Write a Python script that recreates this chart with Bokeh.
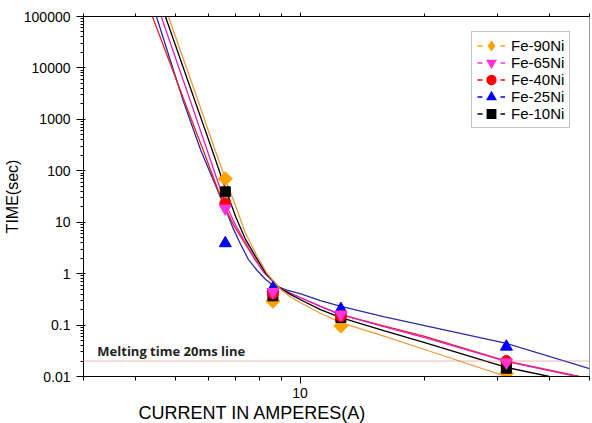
import math
from bokeh.plotting import figure
from bokeh.models import (LogAxis, FixedTicker, LogTicker, CustomJSTickFormatter, Span,
                          Label, Legend, LegendItem, Range1d, Title)
from bokeh.embed import file_html
from bokeh.resources import INLINE

# ---------------- data ----------------
series_names = ["Fe-90Ni", "Fe-65Ni", "Fe-40Ni", "Fe-25Ni", "Fe-10Ni"]

current_points = [6.6, 8.6, 12.55, 31.5]          # measured currents (A)
t_fe90 = [70.0, 0.29, 0.096, 0.0115]               # time (s)
t_fe65 = [18.5, 0.44, 0.16, 0.0188]
t_fe40 = [23.0, 0.41, 0.15, 0.020]
t_fe25 = [3.9, 0.52, 0.205, 0.038]
t_fe10 = [39.0, 0.37, 0.14, 0.0145]

# fitted curves
curve_fe90_x = [4.81, 5.67, 6.24, 6.60, 7.00, 7.37, 7.85, 8.33, 8.95, 9.45, 10.0, 11.2, 12.55, 16.0, 20.0, 31.5]
curve_fe90_y = [1e5, 2330, 248, 70.8, 20.0, 6.3, 2.3, 1.0, 0.51, 0.36, 0.275, 0.17, 0.112, 0.060, 0.0335, 0.010]
curve_fe10_x = [4.73, 5.57, 6.14, 6.63, 7.00, 7.37, 7.85, 8.28, 8.90, 9.45, 10.0, 11.2, 12.55, 16.0, 20.0, 31.5, 40.0]
curve_fe10_y = [1e5, 2330, 248, 41.0, 12.5, 4.8, 2.0, 1.0, 0.54, 0.40, 0.314, 0.20, 0.14, 0.077, 0.0458, 0.015, 0.010]
curve_fe65_x = [4.62, 5.43, 5.97, 6.56, 6.95, 7.33, 7.80, 8.19, 8.85, 9.40, 10.0, 11.2, 12.55, 16.0, 20.0, 31.5, 46.5]
curve_fe65_y = [1e5, 2330, 248, 26.4, 9.5, 4.4, 1.9, 1.05, 0.56, 0.43, 0.344, 0.23, 0.16, 0.092, 0.057, 0.0196, 0.010]
curve_fe40_x = [4.40, 5.25, 5.84, 6.52, 6.90, 7.29, 7.78, 8.19, 8.85, 9.40, 10.0, 11.2, 12.55, 16.0, 20.0, 31.5, 47.3]
curve_fe40_y = [1e5, 2330, 248, 23.1, 9.0, 4.4, 1.9, 1.05, 0.56, 0.43, 0.344, 0.23, 0.16, 0.095, 0.060, 0.020, 0.010]
curve_fe25_x = [4.50, 5.22, 5.76, 6.60, 6.90, 7.17, 7.50, 7.88, 8.25, 8.61, 9.30, 10.0, 11.2, 12.55, 16.0, 20.0, 31.5, 50.0]
curve_fe25_y = [1e5, 2330, 248, 18.5, 7.5, 3.85, 1.9, 1.15, 0.78, 0.59, 0.48, 0.41, 0.30, 0.23, 0.145, 0.098, 0.044, 0.0143]

melting_time = 0.02
melting_label = "Melting time 20ms line"
x_title = "CURRENT IN AMPERES(A)"
y_title = "TIME(sec)"

x_ticks = [10]
x_minor_ticks = [3, 4, 5, 6, 7, 8, 9, 20, 30, 40, 50]

# ---------------- figure ----------------
p = figure(width=592, height=423, output_backend="svg", toolbar_location=None,
           x_axis_type="log", y_axis_type="log",
           x_range=Range1d(3, 50), y_range=Range1d(0.01, 100000),
           min_border_left=83, min_border_right=3, min_border_top=16, min_border_bottom=47)
p.background_fill_color = "white"
p.border_fill_color = "white"
p.outline_line_color = "#999999"
p.grid.visible = False

font = "Liberation Sans"

# x axis (bottom)
xa = p.xaxis[0]
xa.ticker = FixedTicker(ticks=x_ticks, minor_ticks=x_minor_ticks)
xa.formatter = CustomJSTickFormatter(code="return String(Math.round(tick));")
xa.major_label_text_font = font
xa.major_label_text_font_size = "14px"
xa.major_label_text_color = "black"
xa.major_tick_out = 7
xa.major_tick_in = 0
xa.minor_tick_out = 4
xa.minor_tick_in = 0
xa.axis_line_color = "black"
xa.major_label_standoff = 4

# top axis (ticks only)
ta = LogAxis(ticker=FixedTicker(ticks=x_ticks, minor_ticks=x_minor_ticks),
             formatter=CustomJSTickFormatter(code="return '';"))
ta.major_tick_out = 4
ta.major_tick_in = 0
ta.minor_tick_out = 3
ta.minor_tick_in = 0
ta.major_label_text_font_size = "1px"
ta.major_label_standoff = 0
ta.axis_line_color = "black"
p.add_layout(ta, "above")

# y axis
ya = p.yaxis[0]
ya.ticker = LogTicker(num_minor_ticks=10)
ya.formatter = CustomJSTickFormatter(
    code="return tick >= 1 ? String(Math.round(tick)) : String(Number(tick.toPrecision(1)));")
ya.major_label_text_font = font
ya.major_label_text_font_size = "14px"
ya.major_label_text_color = "black"
ya.major_tick_out = 7
ya.major_tick_in = 2
ya.minor_tick_out = 3
ya.minor_tick_in = 0
ya.axis_line_color = "black"
ya.major_label_standoff = 6

# melting-time line
p.add_layout(Span(location=melting_time, dimension="width", line_color="#e06a6a",
                  line_width=1, line_dash="1 1"))

styles = {
    "Fe-90Ni": dict(color="#ffa200", line="#eb9a3a", marker="square", angle=math.pi / 4, size=10,
                    lmarker="diamond", lsize=12, lw=2.6,
                    cx=curve_fe90_x, cy=curve_fe90_y, t=t_fe90),
    "Fe-65Ni": dict(color="#ff33dd", line="#e020c0", marker="inverted_triangle", angle=0, size=12,
                    lmarker="inverted_triangle", lsize=12, lw=2.4,
                    cx=curve_fe65_x, cy=curve_fe65_y, t=t_fe65),
    "Fe-40Ni": dict(color="#ff0000", line="#ee2020", marker="circle", angle=0, size=11,
                    lmarker="circle", lsize=11, lw=3.5,
                    cx=curve_fe40_x, cy=curve_fe40_y, t=t_fe40),
    "Fe-25Ni": dict(color="#0000ff", line="#2a2aa8", marker="triangle", angle=0, size=12,
                    lmarker="triangle", lsize=12, lw=2.4,
                    cx=curve_fe25_x, cy=curve_fe25_y, t=t_fe25),
    "Fe-10Ni": dict(color="#000000", line="#000000", marker="square", angle=0, size=10,
                    lmarker="square", lsize=10, lw=3.0,
                    cx=curve_fe10_x, cy=curve_fe10_y, t=t_fe10),
}

# curves
for name in ["Fe-25Ni", "Fe-40Ni", "Fe-65Ni", "Fe-10Ni", "Fe-90Ni"]:
    s = styles[name]
    p.line(s["cx"], s["cy"], line_color=s["line"], line_width=1.3)

# measured points
for name in ["Fe-90Ni", "Fe-10Ni", "Fe-25Ni", "Fe-40Ni", "Fe-65Ni"]:
    s = styles[name]
    p.scatter(current_points, s["t"], marker=s["marker"], size=s["size"], angle=s["angle"],
              fill_color=s["color"], line_color=s["color"])

# legend glyphs (dashed line + marker), drawn from points lying outside the visible ranges
items = []
for name in series_names:
    s = styles[name]
    lr = p.line(x=[1, 2], y=[1e8, 1e8], line_color=s["color"], line_width=1.3, line_dash="5 18")
    sr = p.scatter(x=[1], y=[1e8], marker=s["lmarker"], size=s["lsize"],
                   fill_color=s["color"], line_color=s["color"],
                   line_width=s["lw"], line_join="miter")
    items.append(LegendItem(label=name, renderers=[lr, sr]))

legend = Legend(items=items, location=(388, 248),
                label_text_font=font, label_text_font_size="15px",
                label_text_color="black", glyph_width=28, glyph_height=17,
                label_height=17, spacing=0, padding=5, margin=0, label_standoff=6,
                border_line_color="#888888", border_line_width=1,
                background_fill_color="white", background_fill_alpha=1.0)
p.add_layout(legend)

# texts
p.add_layout(Label(x=3.24, y=0.032, text=melting_label, text_font="Open Sans",
                   text_font_size="13px", text_font_style="bold", text_color="#222222",
                   text_align="left", text_baseline="middle"))

xt = Title(text=x_title, align="left", offset=55, text_font=font,
           text_font_size="18px", text_font_style="normal", text_color="black", standoff=0)
p.add_layout(xt, "below")

yt = Title(text=y_title, align="center", offset=6, text_font=font,
           text_font_size="16px", text_font_style="normal", text_color="black", standoff=0)
p.add_layout(yt, "left")

open("out.html", "w").write(file_html(p, INLINE))
